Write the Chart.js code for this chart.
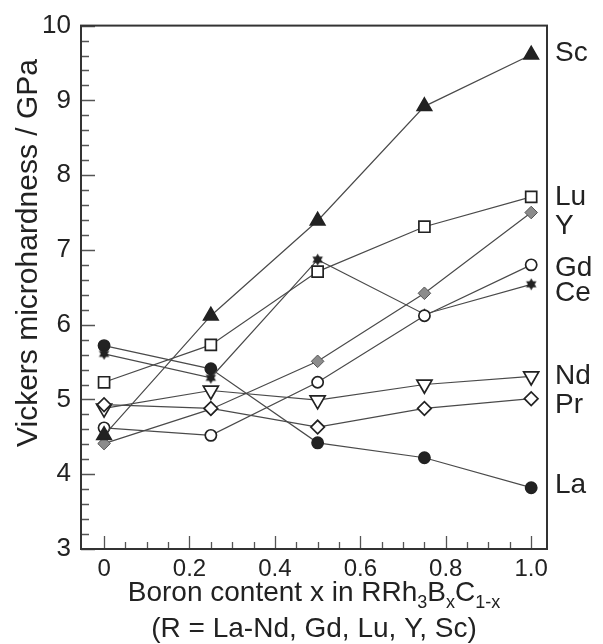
<!DOCTYPE html>
<html>
<head>
<meta charset="utf-8">
<script src="https://cdn.jsdelivr.net/npm/chart.js@4"></script>
<style>
  html, body { margin: 0; padding: 0; background: #fff; }
  #c { display: block; }
</style>
</head>
<body>
<canvas id="c" width="603" height="644"></canvas>
<script>
// boron content x
const xValues = [0, 0.25, 0.5, 0.75, 1.0];

// hardness (GPa) per rare earth
const sc = [4.52, 6.12, 7.39, 8.92, 9.61];
const lu = [5.23, 5.73, 6.71, 7.31, 7.71];
const yt = [4.41, 4.87, 5.51, 6.42, 7.50];
const gd = [4.62, 4.52, 5.23, 6.12, 6.80];
const ce = [5.61, 5.29, 6.87, 6.14, 6.54];
const nd = [4.88, 5.12, 4.99, 5.20, 5.31];
const pr = [4.93, 4.88, 4.63, 4.88, 5.01];
const la = [5.72, 5.41, 4.42, 4.22, 3.82];

const seriesNames = ["Sc", "Lu", "Y", "Gd", "Ce", "Nd", "Pr", "La"];
// where each name sits on the right, in GPa
const seriesLabelY = [9.63, 7.71, 7.31, 6.75, 6.42, 5.31, 4.92, 3.85];

const xTicks = [0, 0.2, 0.4, 0.6, 0.8, 1.0];
const xTickLabels = ["0", "0.2", "0.4", "0.6", "0.8", "1.0"];
const yTicks = [3, 4, 5, 6, 7, 8, 9, 10];

const FONT = "'Liberation Sans', Arial, sans-serif";
const INK = "#222";

// six-pointed star marker for Ce
function hexagram(size) {
  const cv = document.createElement("canvas");
  cv.width = size; cv.height = size;
  const g = cv.getContext("2d");
  const c = size / 2, r = size / 2 - 0.5;
  g.fillStyle = INK;
  [0, Math.PI].forEach(off => {
    g.beginPath();
    for (let i = 0; i < 3; i++) {
      const a = off - Math.PI / 2 + i * 2 * Math.PI / 3;
      const px = c + r * Math.cos(a), py = c + r * Math.sin(a);
      i ? g.lineTo(px, py) : g.moveTo(px, py);
    }
    g.closePath();
    g.fill();
  });
  return cv;
}

const pts = arr => arr.map((v, i) => ({ x: xValues[i], y: v }));

function ds(label, data, style, fill, radius, extra) {
  return Object.assign({
    label,
    data: pts(data),
    showLine: true,
    borderColor: "#4a4a4a",
    borderWidth: 1.2,
    pointStyle: style,
    pointRadius: radius,
    pointBackgroundColor: fill,
    pointBorderColor: INK,
    pointBorderWidth: 1.7
  }, extra || {});
}

const datasets = [
  ds("Sc", sc, "triangle", INK, 8.3),
  ds("Lu", lu, "rect", "#fff", 7.8),
  ds("Pr", pr, "rectRot", "#fff", 6.8),
  ds("Y", yt, "rectRot", "#8c8c8c", 6.3, { pointBorderColor: "#555", pointBorderWidth: 1 }),
  ds("Gd", gd, "circle", "#fff", 5.6),
  ds("Ce", ce, hexagram(13), INK, 6.5),
  ds("Nd", nd, "triangle", "#fff", 8.7, { pointRotation: 180 }),
  ds("La", la, "circle", INK, 5.6)
];

const decorations = {
  id: "decorations",
  afterDraw(chart) {
    const { ctx, chartArea: a, scales: { x, y } } = chart;
    ctx.save();

    // inward tick marks
    ctx.strokeStyle = "#555";
    ctx.lineWidth = 1.3;
    ctx.beginPath();
    for (let i = 0; i <= 35; i++) {
      const v = 3 + i * 0.2;
      const py = Math.round(y.getPixelForValue(v)) + 0.5;
      const len = i % 5 === 0 ? 14 : 8;
      ctx.moveTo(a.left, py); ctx.lineTo(a.left + len, py);
    }
    for (let i = 0; i <= 20; i++) {
      const v = i * 0.05;
      const px = Math.round(x.getPixelForValue(v)) + 0.5;
      const len = i % 4 === 0 ? 13 : 7;
      ctx.moveTo(px, a.bottom); ctx.lineTo(px, a.bottom - len);
    }
    ctx.stroke();

    // frame
    ctx.strokeStyle = "#333";
    ctx.lineWidth = 2;
    ctx.strokeRect(a.left, a.top, a.right - a.left, a.bottom - a.top);

    // series names on the right
    ctx.fillStyle = INK;
    ctx.font = "28px " + FONT;
    ctx.textAlign = "left";
    ctx.textBaseline = "middle";
    seriesNames.forEach((n, i) => {
      ctx.fillText(n, a.right + 8, y.getPixelForValue(seriesLabelY[i]));
    });

    // y title
    ctx.save();
    ctx.font = "30px " + FONT;
    ctx.translate(29, 253);
    ctx.rotate(-Math.PI / 2);
    ctx.textAlign = "center";
    ctx.fillText("Vickers microhardness / GPa", 0, 0);
    ctx.restore();

    // x title with subscripts
    const parts = [
      ["Boron content x in RRh", false], ["3", true], ["B", false],
      ["x", true], ["C", false], ["1-x", true]
    ];
    const big = "28px " + FONT, small = "18px " + FONT;
    let total = 0;
    parts.forEach(p => { ctx.font = p[1] ? small : big; total += ctx.measureText(p[0]).width; });
    let cx = (a.left + a.right) / 2 - total / 2;
    ctx.textAlign = "left";
    ctx.textBaseline = "alphabetic";
    parts.forEach(p => {
      ctx.font = p[1] ? small : big;
      ctx.fillText(p[0], cx, p[1] ? 608 : 601);
      cx += ctx.measureText(p[0]).width;
    });
    ctx.font = big;
    ctx.textAlign = "center";
    ctx.fillText("(R = La-Nd, Gd, Lu, Y, Sc)", (a.left + a.right) / 2, 637);

    ctx.restore();
  }
};

new Chart(document.getElementById("c"), {
  type: "scatter",
  data: { datasets },
  options: {
    responsive: false,
    animation: false,
    layout: { padding: { top: 25, right: 56, left: 0, bottom: 0 } },
    plugins: { legend: { display: false }, tooltip: { enabled: false } },
    scales: {
      x: {
        type: "linear",
        min: -0.054,
        max: 1.037,
        afterBuildTicks: s => { s.ticks = xTicks.map(v => ({ value: v })); },
        afterFit: s => { s.height = 95; },
        grid: { display: false, drawTicks: false },
        border: { display: false },
        ticks: {
          padding: 6,
          color: INK,
          font: { size: 24, family: FONT },
          maxRotation: 0,
          autoSkip: false,
          callback: (v, i) => xTickLabels[i]
        }
      },
      y: {
        type: "linear",
        min: 3,
        max: 10,
        afterBuildTicks: s => { s.ticks = yTicks.map(v => ({ value: v })); },
        afterFit: s => { s.width = 81; },
        grid: { display: false, drawTicks: false },
        border: { display: false },
        ticks: {
          padding: 10,
          color: INK,
          font: { size: 26, family: FONT },
          callback: v => String(v)
        }
      }
    }
  },
  plugins: [decorations]
});
</script>
</body>
</html>
